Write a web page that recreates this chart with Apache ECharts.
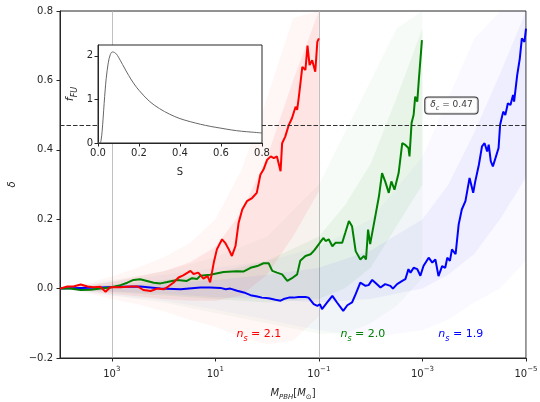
<!DOCTYPE html>
<html>
<head>
<meta charset="utf-8">
<script src="https://cdn.jsdelivr.net/npm/echarts@6/dist/echarts.min.js"></script>
<style>
  html, body { margin: 0; padding: 0; background: #fff; }
  #chart { width: 540px; height: 402px; }
</style>
</head>
<body>
<div id="chart"></div>
<script>
// highlighted walks, x = log10(M_PBH / Msun), y = delta
const redLogM = [4.0, 3.86, 3.74, 3.6, 3.47, 3.35, 3.22, 3.12, 3.03, 2.83, 2.64, 2.5, 2.39, 2.25, 2.12, 2.0, 1.91, 1.81, 1.71, 1.62, 1.48, 1.42, 1.33, 1.23, 1.15, 1.1, 1.03, 0.97, 0.87, 0.81, 0.74, 0.68, 0.61, 0.55, 0.48, 0.39, 0.29, 0.2, 0.13, 0.07, 0.0, -0.07, -0.13, -0.19, -0.26, -0.29, -0.35, -0.42, -0.48, -0.55, -0.58, -0.61, -0.64, -0.68, -0.74, -0.78, -0.82, -0.87, -0.9, -0.93, -0.97, -1.0]
const redDelta = [0, 0.006, 0.006, 0.012, 0.006, 0.004, 0.005, -0.009, 0.004, 0.004, 0.006, 0.006, -0.004, -0.007, 0.0, -0.002, 0.006, 0.017, 0.032, 0.038, 0.051, 0.042, 0.046, 0.029, 0.036, 0.018, 0.075, 0.113, 0.142, 0.132, 0.113, 0.094, 0.123, 0.19, 0.228, 0.252, 0.261, 0.276, 0.328, 0.343, 0.371, 0.381, 0.376, 0.381, 0.338, 0.419, 0.438, 0.472, 0.491, 0.524, 0.515, 0.549, 0.587, 0.639, 0.63, 0.70, 0.644, 0.658, 0.663, 0.625, 0.711, 0.721]

const greenLogM = [4.0, 3.8, 3.6, 3.41, 3.22, 3.03, 2.83, 2.7, 2.58, 2.45, 2.32, 2.19, 2.06, 1.93, 1.74, 1.55, 1.45, 1.35, 1.29, 1.1, 0.84, 0.58, 0.46, 0.32, 0.19, 0.07, -0.03, -0.1, -0.19, -0.29, -0.39, -0.48, -0.58, -0.64, -0.74, -0.84, -0.91, -1.0, -1.03, -1.09, -1.13, -1.19, -1.26, -1.32, -1.38, -1.45, -1.51, -1.58, -1.64, -1.71, -1.8, -1.87, -1.91, -1.95, -1.99, -2.09, -2.16, -2.22, -2.28, -2.35, -2.4, -2.46, -2.54, -2.61, -2.67, -2.73, -2.75, -2.79, -2.83, -2.86, -2.9, -2.93, -2.99]
const greenDelta = [0, 0, -0.004, -0.003, 0, 0.003, 0.01, 0.017, 0.025, 0.027, 0.022, 0.017, 0.015, 0.019, 0.025, 0.022, 0.03, 0.028, 0.037, 0.04, 0.048, 0.05, 0.049, 0.06, 0.065, 0.073, 0.073, 0.051, 0.046, 0.041, 0.022, 0.03, 0.041, 0.08, 0.094, 0.099, 0.11, 0.128, 0.135, 0.146, 0.137, 0.142, 0.122, 0.132, 0.132, 0.132, 0.161, 0.195, 0.18, 0.108, 0.084, 0.094, 0.084, 0.17, 0.128, 0.209, 0.266, 0.333, 0.309, 0.276, 0.309, 0.285, 0.333, 0.419, 0.414, 0.405, 0.381, 0.477, 0.501, 0.553, 0.539, 0.601, 0.716]

const blueLogM = [4.0, 3.6, 3.22, 2.83, 2.45, 2.06, 1.67, 1.29, 1.1, 0.9, 0.8, 0.71, 0.58, 0.45, 0.32, 0.19, 0.1, -0.03, -0.16, -0.26, -0.32, -0.42, -0.51, -0.61, -0.74, -0.8, -0.9, -0.97, -1.02, -1.06, -1.09, -1.16, -1.26, -1.35, -1.47, -1.55, -1.64, -1.71, -1.8, -1.9, -1.96, -2.03, -2.09, -2.19, -2.28, -2.38, -2.43, -2.51, -2.61, -2.67, -2.73, -2.77, -2.83, -2.9, -2.96, -3.02, -3.12, -3.19, -3.25, -3.31, -3.38, -3.44, -3.48, -3.53, -3.57, -3.64, -3.7, -3.76, -3.83, -3.91, -3.98, -4.02, -4.09, -4.15, -4.2, -4.25, -4.28, -4.32, -4.36, -4.41, -4.47, -4.5, -4.56, -4.6, -4.65, -4.7, -4.75, -4.77, -4.83, -4.88, -4.92, -4.97, -5.0]
const blueDelta = [0, 0.002, 0.003, 0.005, 0.006, 0, -0.002, 0.003, 0.003, 0.002, -0.002, 0, -0.006, -0.011, -0.019, -0.023, -0.026, -0.028, -0.032, -0.035, -0.03, -0.026, -0.026, -0.024, -0.024, -0.026, -0.045, -0.05, -0.045, -0.059, -0.059, -0.04, -0.021, -0.04, -0.064, -0.048, -0.04, -0.016, 0.017, 0.008, 0.01, 0.025, 0.017, 0.003, 0.013, 0.008, 0, 0.013, 0.022, 0.027, 0.056, 0.046, 0.06, 0.056, 0.037, 0.065, 0.089, 0.075, 0.084, 0.036, 0.065, 0.06, 0.089, 0.08, 0.113, 0.099, 0.185, 0.228, 0.252, 0.319, 0.276, 0.309, 0.357, 0.41, 0.419, 0.395, 0.415, 0.367, 0.352, 0.376, 0.405, 0.472, 0.51, 0.5, 0.534, 0.529, 0.558, 0.539, 0.615, 0.663, 0.721, 0.711, 0.749]

// spread of the faint ensembles (outer = all walks, inner = dense core)
const redCloudLogM = [4.0, 3.5, 3.0, 2.5, 2.0, 1.5, 1.0, 0.5, 0.0, -0.5, -1.0]
const redOuterLo = [0, -0.012, -0.03, -0.045, -0.065, -0.09, -0.11, -0.14, -0.16, -0.15, -0.08]
const redOuterHi = [0, 0.015, 0.035, 0.06, 0.09, 0.13, 0.2, 0.34, 0.55, 0.78, 0.8]
const redInnerLo = [0, -0.006, -0.015, -0.022, -0.03, -0.035, -0.035, -0.02, 0.04, 0.15, 0.28]
const redInnerHi = [0, 0.008, 0.02, 0.035, 0.05, 0.075, 0.12, 0.22, 0.38, 0.6, 0.8]

const greenCloudLogM = [4.0, 3.0, 2.0, 1.0, 0.0, -1.0, -1.5, -2.0, -2.5, -3.0]
const greenOuterLo = [0, -0.02, -0.04, -0.07, -0.1, -0.13, -0.13, -0.1, -0.05, 0.03]
const greenOuterHi = [0, 0.025, 0.05, 0.09, 0.15, 0.3, 0.45, 0.6, 0.75, 0.8]
const greenInnerLo = [0, -0.01, -0.02, -0.03, -0.04, -0.03, 0.0, 0.06, 0.18, 0.3]
const greenInnerHi = [0, 0.012, 0.025, 0.045, 0.08, 0.15, 0.24, 0.36, 0.55, 0.75]

const blueCloudLogM = [4.0, 3.0, 2.0, 1.0, 0.0, -1.0, -2.0, -3.0, -3.5, -4.0, -4.5, -5.0]
const blueOuterLo = [0, -0.02, -0.035, -0.06, -0.09, -0.12, -0.14, -0.12, -0.09, -0.04, 0.0, 0.08]
const blueOuterHi = [0, 0.02, 0.04, 0.06, 0.08, 0.12, 0.2, 0.38, 0.55, 0.72, 0.8, 0.8]
const blueInnerLo = [0, -0.008, -0.015, -0.025, -0.03, -0.04, -0.03, 0.0, 0.04, 0.1, 0.2, 0.32]
const blueInnerHi = [0, 0.008, 0.015, 0.025, 0.04, 0.06, 0.11, 0.2, 0.3, 0.45, 0.62, 0.8]

// inset: first-crossing distribution
const fuS = [0, 0.01, 0.015, 0.02, 0.025, 0.03, 0.035, 0.04, 0.05, 0.06, 0.07, 0.08, 0.09, 0.1, 0.12, 0.14, 0.16, 0.18, 0.2, 0.25, 0.3, 0.35, 0.4, 0.45, 0.5, 0.55, 0.6, 0.65, 0.7, 0.75, 0.8]
const fuVal = [0, 0.003, 0.065, 0.265, 0.57, 0.91, 1.22, 1.48, 1.84, 2.03, 2.09, 2.08, 2.04, 1.97, 1.8, 1.63, 1.47, 1.33, 1.21, 0.96, 0.79, 0.66, 0.56, 0.49, 0.43, 0.38, 0.34, 0.3, 0.27, 0.25, 0.23]

const deltaC = 0.47
const massTicks = [-5, -3, -1, 1, 3]
const nsLabels = ['2.1', '2.0', '1.9']

const FONT = 'DejaVu Sans'
const INK = '#262626'
const zip = (xs, ys) => xs.map((x, i) => [x, ys[i]])

const band = (xs, lo, hi, color) => ({
  type: 'custom',
  silent: true,
  z: 1,
  data: xs.map((x, i) => [x, lo[i], hi[i]]),
  encode: { x: 0, y: [1, 2] },
  renderItem: (params, api) => {
    if (params.dataIndex !== 0) return
    const top = xs.map((x, i) => api.coord([x, hi[i]]))
    const bottom = xs.map((x, i) => api.coord([x, lo[i]])).reverse()
    return {
      type: 'polygon',
      shape: { points: top.concat(bottom) },
      style: { fill: color }
    }
  }
})

const nsMark = (text, x, color) => ({
  silent: true,
  symbol: 'circle',
  symbolSize: 1,
  itemStyle: { color: 'transparent' },
  label: {
    show: true,
    position: 'inside',
    formatter: '{i|n}{s|s}{t| = ' + text + '}',
    rich: {
      i: { fontFamily: FONT, fontSize: 11, fontStyle: 'italic', color, verticalAlign: 'bottom', padding: [0, 0, 3, 0] },
      s: { fontFamily: FONT, fontSize: 8, fontStyle: 'italic', color, verticalAlign: 'bottom' },
      t: { fontFamily: FONT, fontSize: 11, color, verticalAlign: 'bottom', padding: [0, 0, 3, 0] }
    }
  },
  data: [{ coord: [x, -0.136] }]
})

const walk = (xs, ys, color, mark) => ({
  type: 'line',
  data: zip(xs, ys),
  showSymbol: false,
  symbol: 'none',
  z: 3,
  lineStyle: { color, width: 2 },
  markPoint: mark
})

const sub = { fontFamily: FONT, fontSize: 7, fontStyle: 'italic', color: INK, verticalAlign: 'bottom' }
const base = { fontFamily: FONT, fontSize: 10, color: INK, verticalAlign: 'bottom', padding: [0, 0, 3, 0] }

const chart = echarts.init(document.getElementById('chart'), null, { renderer: 'canvas' })
chart.setOption({
  animation: false,
  backgroundColor: '#fff',
  textStyle: { fontFamily: FONT },
  grid: [
    { left: 60, right: 14, top: 11, bottom: 44, show: true, borderColor: INK, borderWidth: 1, containLabel: false, outerBoundsMode: 'none' },
    { left: 98, top: 45, width: 164, height: 98, show: true, backgroundColor: '#fff', borderColor: INK, borderWidth: 1, z: 10, containLabel: false, outerBoundsMode: 'none' }
  ],
  xAxis: [
    {
      type: 'value',
      gridIndex: 0,
      min: -5,
      max: 4,
      interval: 1,
      inverse: true,
      axisLine: { show: true, onZero: false, lineStyle: { color: INK, width: 1 } },
      axisTick: { show: true, length: 3.5, customValues: massTicks, lineStyle: { color: INK } },
      axisLabel: {
        margin: 8,
        customValues: massTicks,
        formatter: v => '{b|10}{e|' + String(v).replace('-', '\u2212') + '}',
        rich: {
          b: { fontFamily: FONT, fontSize: 10, color: INK, verticalAlign: 'bottom' },
          e: { fontFamily: FONT, fontSize: 7, color: INK, verticalAlign: 'bottom', padding: [0, 0, 6, 0] }
        }
      },
      splitLine: { show: true, lineStyle: { color: ['#b0b0b0', 'transparent'], width: 0.8 } },
      name: '{i|M}{s|PBH}{n|[}{i|M}{o|\u2299}{n|]}',
      nameLocation: 'middle',
      nameGap: 30,
      nameTextStyle: {
        rich: {
          i: Object.assign({}, base, { fontStyle: 'italic' }),
          n: base,
          s: sub,
          o: Object.assign({}, sub, { fontStyle: 'normal' })
        }
      }
    },
    {
      type: 'value',
      gridIndex: 1,
      min: 0,
      max: 0.8,
      interval: 0.2,
      z: 11,
      axisLine: { show: true, onZero: false, lineStyle: { color: INK, width: 1 } },
      axisTick: { show: true, length: 3.5, lineStyle: { color: INK } },
      axisLabel: { margin: 5, fontFamily: FONT, fontSize: 10, color: INK, formatter: v => v.toFixed(1) },
      splitLine: { show: false },
      name: 'S',
      nameLocation: 'middle',
      nameGap: 24,
      nameTextStyle: { fontFamily: FONT, fontSize: 10, color: INK }
    }
  ],
  yAxis: [
    {
      type: 'value',
      gridIndex: 0,
      min: -0.2,
      max: 0.8,
      interval: 0.2,
      axisLine: { show: true, onZero: false, lineStyle: { color: INK, width: 1 } },
      axisTick: { show: true, length: 3.5, lineStyle: { color: INK } },
      axisLabel: {
        margin: 7,
        fontFamily: FONT,
        fontSize: 10,
        color: INK,
        formatter: v => (Math.abs(v) < 1e-9 ? 0 : v).toFixed(1).replace('-', '\u2212')
      },
      splitLine: { show: false },
      name: '\u03b4',
      nameLocation: 'middle',
      nameGap: 42,
      nameTextStyle: { fontFamily: FONT, fontSize: 10, fontStyle: 'italic', color: INK }
    },
    {
      type: 'value',
      gridIndex: 1,
      min: 0,
      max: 2.25,
      interval: 1,
      z: 11,
      axisLine: { show: true, onZero: false, lineStyle: { color: INK, width: 1 } },
      axisTick: { show: true, length: 3.5, customValues: [0, 1, 2], lineStyle: { color: INK } },
      axisLabel: { margin: 5, fontFamily: FONT, fontSize: 10, color: INK, customValues: [0, 1, 2] },
      splitLine: { show: false },
      name: '{i|f}{s|FU}',
      nameLocation: 'middle',
      nameGap: 19,
      nameTextStyle: {
        rich: {
          i: Object.assign({}, base, { fontSize: 11, fontStyle: 'italic' }),
          s: Object.assign({}, sub, { fontSize: 8 })
        }
      }
    }
  ],
  series: [
    band(redCloudLogM, redOuterLo, redOuterHi, 'rgba(255,0,0,0.035)'),
    band(greenCloudLogM, greenOuterLo, greenOuterHi, 'rgba(0,128,0,0.03)'),
    band(blueCloudLogM, blueOuterLo, blueOuterHi, 'rgba(0,0,255,0.025)'),
    band(redCloudLogM, redInnerLo, redInnerHi, 'rgba(255,0,0,0.07)'),
    band(greenCloudLogM, greenInnerLo, greenInnerHi, 'rgba(0,128,0,0.06)'),
    band(blueCloudLogM, blueInnerLo, blueInnerHi, 'rgba(0,0,255,0.045)'),
    walk(blueLogM, blueDelta, '#0000ff', nsMark(nsLabels[2], -3.74, '#0000ff')),
    walk(greenLogM, greenDelta, '#008000', nsMark(nsLabels[1], -1.85, '#008000')),
    Object.assign(walk(redLogM, redDelta, '#ff0000', nsMark(nsLabels[0], 0.16, '#ff0000')), {
      markLine: {
        silent: true,
        symbol: 'none',
        label: { show: false },
        lineStyle: { color: '#333', type: [4.5, 2], width: 1 },
        data: [{ yAxis: deltaC }]
      }
    }),
    {
      type: 'scatter',
      silent: true,
      z: 4,
      symbolSize: 0,
      data: [[-3.56, 0.528]],
      label: {
        show: true,
        position: 'inside',
        formatter: '{d|\u03b4}{c|c}{t| = ' + deltaC + '}',
        backgroundColor: '#fff',
        borderColor: '#000',
        borderWidth: 1,
        borderRadius: 3,
        padding: [3, 5, 2, 5],
        rich: {
          d: { fontFamily: FONT, fontSize: 9, fontStyle: 'italic', color: '#000', verticalAlign: 'bottom', padding: [0, 0, 2, 0] },
          c: { fontFamily: FONT, fontSize: 6.5, fontStyle: 'italic', color: '#000', verticalAlign: 'bottom' },
          t: { fontFamily: FONT, fontSize: 9, color: '#000', verticalAlign: 'bottom', padding: [0, 0, 2, 0] }
        }
      }
    },
    {
      type: 'line',
      xAxisIndex: 1,
      yAxisIndex: 1,
      z: 12,
      data: zip(fuS, fuVal),
      showSymbol: false,
      symbol: 'none',
      smooth: 0.35,
      lineStyle: { color: '#666', width: 1 }
    }
  ]
})
</script>
</body>
</html>
